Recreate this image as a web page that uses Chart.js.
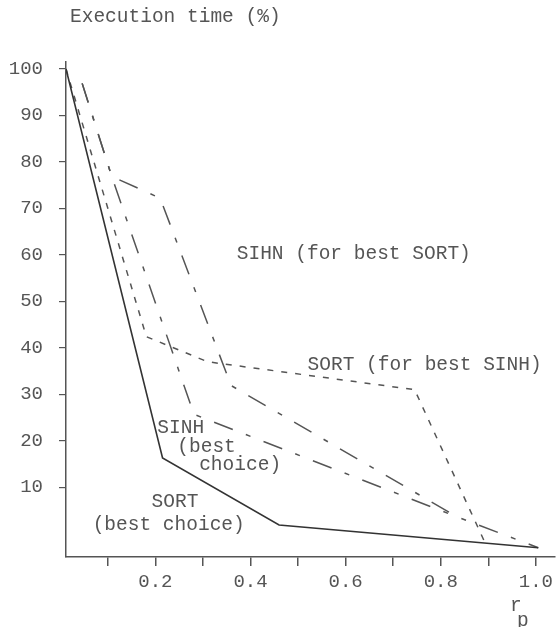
<!DOCTYPE html>
<html>
<head>
<meta charset="utf-8">
<script src="https://cdn.jsdelivr.net/npm/chart.js@4/dist/chart.umd.min.js"></script>
<style>
  html, body { margin: 0; padding: 0; background: #fff; }
</style>
</head>
<body>
<canvas id="execChart" width="558" height="627"></canvas>
<script>
// SORT (best choice) - solid
const sortBestX = [0.012, 0.215, 0.46, 1.005];
const sortBestY = [100, 16.3, 1.9, -3.0];
// SORT (for best SINH) - short dashes
const sortForSinhX = [0.012, 0.181, 0.31, 0.745, 0.896];
const sortForSinhY = [100, 42.4, 37, 31, -2.6];
// SIHN (for best SORT) - long dashes
const sihnForSortX = [0.046, 0.108, 0.21, 0.359, 0.835, 1.005];
const sihnForSortY = [96.9, 76.9, 72.2, 31.9, 3.6, -3.0];
// SINH (best choice) - long dashes
const sinhBestX = [0.046, 0.108, 0.281, 0.835];
const sinhBestY = [96.9, 76.9, 25.7, 3.6];

const yTickValues = [10, 20, 30, 40, 50, 60, 70, 80, 90, 100];
const yTickLabels = ["10", "20", "30", "40", "50", "60", "70", "80", "90", "100"];
const xTickValues = [0.1, 0.2, 0.3, 0.4, 0.5, 0.6, 0.7, 0.8, 0.9, 1.0];
const xTickLabels = ["", "0.2", "", "0.4", "", "0.6", "", "0.8", "", "1.0"];

const ink = "#555";
const font = "Liberation Mono";

function points(xs, ys) {
  return xs.map((x, i) => ({ x: x, y: ys[i] }));
}

// in-plot labels, anchored in data units (left edge, vertical middle)
const notes = [
  { text: "SIHN (for best SORT)", x: 0.371, y: 60.2 },
  { text: "SORT (for best SINH)", x: 0.52, y: 36.4 },
  { text: "SINH", x: 0.204, y: 22.7 },
  { text: "(best", x: 0.246, y: 18.6 },
  { text: "choice)", x: 0.292, y: 14.8 },
  { text: "SORT", x: 0.192, y: 6.9 },
  { text: "(best choice)", x: 0.068, y: 1.9 },
];

const textPlugin = {
  id: "texts",
  afterDraw(chart) {
    const ctx = chart.ctx;
    const xs = chart.scales.x;
    const ys = chart.scales.y;
    ctx.save();
    ctx.fillStyle = ink;
    ctx.font = "19.5px '" + font + "'";
    ctx.textBaseline = "middle";
    ctx.textAlign = "left";
    notes.forEach(n => {
      ctx.fillText(n.text, xs.getPixelForValue(n.x), ys.getPixelForValue(n.y));
    });
    // axis titles
    ctx.fillText("Execution time (%)", 70, 17);
    ctx.fillText("r", 510, 606);
    ctx.fillText("p", 517, 621);
    ctx.restore();
  },
};

const ctx = document.getElementById("execChart");
const execChart = new Chart(ctx, {
  type: "line",
  data: {
    datasets: [
      {
        label: "SORT (best choice)",
        data: points(sortBestX, sortBestY),
        borderColor: "#333",
        borderWidth: 1.6,
      },
      {
        label: "SORT (for best SINH)",
        data: points(sortForSinhX, sortForSinhY),
        borderColor: ink,
        borderWidth: 1.5,
        borderDash: [6, 8],
      },
      {
        label: "SIHN (for best SORT)",
        data: points(sihnForSortX, sihnForSortY),
        borderColor: ink,
        borderWidth: 1.5,
        borderDash: [20, 14, 5, 14],
      },
      {
        label: "SINH (best choice)",
        data: points(sinhBestX, sinhBestY),
        borderColor: ink,
        borderWidth: 1.5,
        borderDash: [20, 14, 5, 14],
      },
    ],
  },
  options: {
    responsive: false,
    animation: false,
    layout: { padding: { top: 62, right: 0, bottom: 0, left: 0 } },
    elements: { point: { radius: 0 }, line: { tension: 0, fill: false } },
    plugins: { legend: { display: false }, tooltip: { enabled: false } },
    scales: {
      x: {
        type: "linear",
        min: 0.012,
        max: 1.04,
        afterBuildTicks: s => { s.ticks = xTickValues.map(v => ({ value: v })); },
        afterFit: s => { s.height = 70; },
        border: { display: true, color: ink, width: 1.5 },
        grid: { drawOnChartArea: false, drawTicks: true, tickLength: 9, color: ink, lineWidth: 1.5 },
        ticks: {
          autoSkip: false,
          maxRotation: 0,
          padding: 5,
          color: ink,
          font: { family: font, size: 19 },
          callback: (v, i) => xTickLabels[i],
        },
      },
      y: {
        type: "linear",
        min: -5,
        max: 101.5,
        afterBuildTicks: s => { s.ticks = yTickValues.map(v => ({ value: v })); },
        afterFit: s => { s.width = 66; },
        border: { display: true, color: ink, width: 1.5 },
        grid: { drawOnChartArea: false, drawTicks: true, tickLength: 7, color: ink, lineWidth: 1.2 },
        ticks: {
          autoSkip: false,
          padding: 16,
          color: ink,
          font: { family: font, size: 19 },
          callback: (v, i) => yTickLabels[i],
        },
      },
    },
  },
  plugins: [textPlugin],
});
</script>
</body>
</html>
